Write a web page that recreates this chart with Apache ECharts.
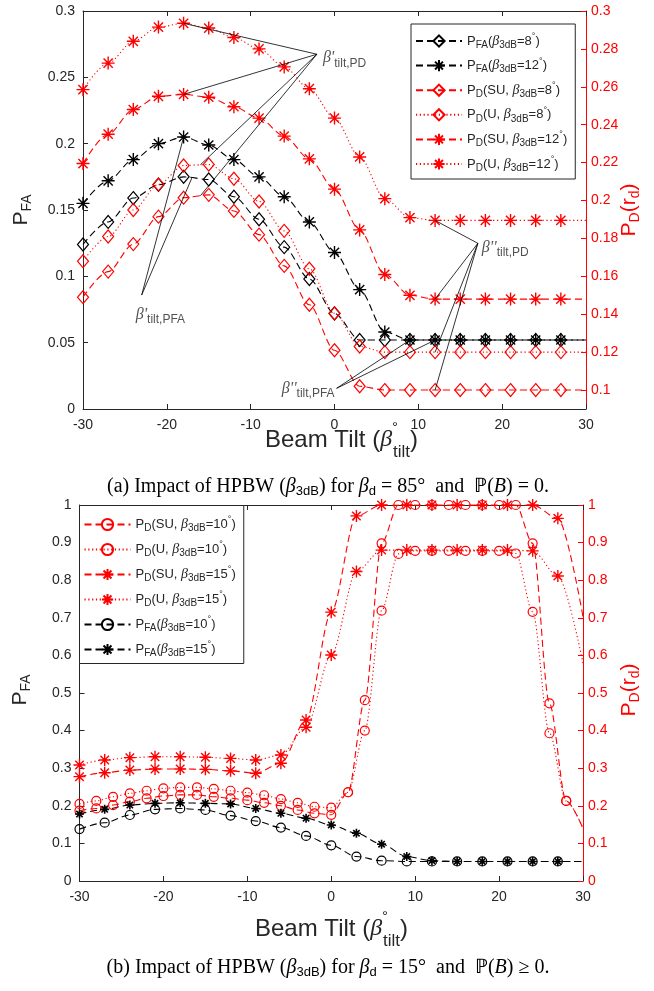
<!DOCTYPE html>
<html>
<head>
<meta charset="utf-8">
<script src="https://cdn.jsdelivr.net/npm/echarts@6/dist/echarts.min.js"></script>
<style>
  html, body { margin: 0; padding: 0; background: #fff; }
  #chart { width: 654px; height: 991px; }
</style>
</head>
<body>
<div id="chart"></div>
<script>
// beam tilt positions (deg)
const tilt3 = [-30, -27, -24, -21, -18, -15, -12, -9, -6, -3, 0, 3, 6, 9, 12, 15, 18, 21, 24, 27, 30]
const tilt2 = [-30, -28, -26, -24, -22, -20, -18, -16, -14, -12, -10, -8, -6, -4, -2, 0,
  2, 4, 6, 8, 10, 12, 14, 16, 18, 20, 22, 24, 26, 28, 30]

// (a) beta_d = 85 deg, P(B) = 0   -- FA on left axis, PD on right axis
const faA8 = [0.124, 0.141, 0.159, 0.169, 0.175, 0.173, 0.160, 0.143, 0.122, 0.098, 0.072,
  0.052, 0.052, 0.052, 0.052, 0.052, 0.052, 0.052, 0.052, 0.052, 0.052]
const faA12 = [0.155, 0.172, 0.188, 0.200, 0.205, 0.199, 0.188, 0.175, 0.160, 0.141, 0.118,
  0.090, 0.058, 0.052, 0.052, 0.052, 0.052, 0.052, 0.052, 0.052, 0.052]
const suA8 = [0.149, 0.1625, 0.177, 0.1915, 0.2015, 0.203, 0.1945, 0.182, 0.1655, 0.145, 0.121,
  0.102, 0.100, 0.100, 0.100, 0.100, 0.100, 0.100, 0.100, 0.100, 0.100]
const uA8 = [0.168, 0.181, 0.195, 0.2085, 0.2185, 0.219, 0.2115, 0.1995, 0.184, 0.164, 0.1405,
  0.123, 0.120, 0.120, 0.120, 0.120, 0.120, 0.120, 0.120, 0.120, 0.120]
const suA12 = [0.2195, 0.235, 0.248, 0.255, 0.256, 0.2545, 0.2495, 0.2435, 0.234, 0.222, 0.206,
  0.1845, 0.161, 0.150, 0.148, 0.148, 0.148, 0.148, 0.148, 0.148, 0.148]
const uA12 = [0.2585, 0.2725, 0.284, 0.2915, 0.2935, 0.291, 0.286, 0.280, 0.2705, 0.259, 0.2435,
  0.223, 0.201, 0.191, 0.1895, 0.1895, 0.1895, 0.1895, 0.1895, 0.1895, 0.1895]
const rightTicksA = [0.1, 0.12, 0.14, 0.16, 0.18, 0.2, 0.22, 0.24, 0.26, 0.28, 0.3]

// (b) beta_d = 15 deg, P(B) >= 0
const suB10 = [0.187, 0.193, 0.202, 0.211, 0.220, 0.226, 0.229, 0.229, 0.224, 0.220, 0.215, 0.208,
  0.200, 0.189, 0.180, 0.176, 0.236, 0.481, 0.898, 1.0, 1.0, 1.0, 1.0, 1.0, 1.0, 1.0, 1.0,
  0.898, 0.4725, 0.213, 0.140]
const uB10 = [0.205, 0.213, 0.224, 0.233, 0.240, 0.2465, 0.249, 0.249, 0.245, 0.240, 0.235, 0.228,
  0.218, 0.208, 0.1975, 0.195, 0.236, 0.400, 0.719, 0.870, 0.878, 0.878, 0.878, 0.878, 0.878,
  0.878, 0.871, 0.716, 0.393, 0.213, 0.140]
const suB15 = [0.2775, 0.288, 0.295, 0.298, 0.298, 0.297, 0.293, 0.2865, 0.313, 0.428, 0.715,
  0.971, 1.0, 1.0, 1.0, 1.0, 1.0, 1.0, 1.0, 0.9645, 0.703]
const uB15 = [0.3085, 0.322, 0.328, 0.3305, 0.3305, 0.329, 0.326, 0.322, 0.335, 0.409, 0.601,
  0.823, 0.880, 0.880, 0.880, 0.880, 0.880, 0.880, 0.878, 0.811, 0.579]
const faB10 = [0.138, 0.155, 0.1755, 0.1905, 0.193, 0.189, 0.174, 0.1595, 0.142, 0.120, 0.095,
  0.065, 0.054, 0.052, 0.052, 0.052, 0.052, 0.052, 0.052, 0.052, 0.052]
const faB15 = [0.178, 0.1905, 0.202, 0.2065, 0.208, 0.2065, 0.205, 0.193, 0.180, 0.167, 0.149,
  0.127, 0.098, 0.065, 0.054, 0.052, 0.052, 0.052, 0.052, 0.052, 0.052]

const RED = '#ff0000'
const INK = '#262626'
const STAR = 'path://M10,0L10,20M0,10L20,10M2.93,2.93L17.07,17.07M2.93,17.07L17.07,2.93'
const DASH = [7, 4]
const DOT = [1.2, 2.6]

// right axis of (a) runs 0.09..0.3, the left one 0..0.3
const rMinA = 0.09
const toLeftA = (v) => (v - rMinA) / (0.3 - rMinA) * 0.3
const interp = (xs, ys, x) => {
  for (let i = 0; i < xs.length - 1; i++) {
    if (x >= xs[i] && x <= xs[i + 1]) {
      const t = (x - xs[i]) / (xs[i + 1] - xs[i])
      return ys[i] + t * (ys[i + 1] - ys[i])
    }
  }
  return ys[ys.length - 1]
}

// no marker on the last point (x = 30)
const pts = (xs, ys) => xs.map((x, i) => (x === 30 ? { value: [x, ys[i]], symbol: 'none' } : [x, ys[i]]))

function curve(name, xs, ys, o) {
  return {
    name,
    type: 'line',
    xAxisIndex: o.grid * 2,
    yAxisIndex: o.y,
    data: pts(xs, ys),
    symbol: o.sym,
    symbolSize: o.size,
    itemStyle: { color: o.fill || 'rgba(0,0,0,0)', borderColor: o.color, borderWidth: o.bw || 1.2 },
    lineStyle: { color: o.color, width: 1.1, type: o.dash },
    smooth: 0.3,
    smoothMonotone: 'x',
    silent: true,
  }
}

const rich = {
  b: { fontFamily: 'Liberation Serif', fontStyle: 'italic', fontSize: 14 },
  s: { fontSize: 10, padding: [8, 0, 0, 0] },
  u: { fontSize: 9, padding: [0, 0, 9, 0] },
}

const legendText = {
  FA8: 'P{s|FA}({b|β}{s|3dB}=8{u|°})',
  FA12: 'P{s|FA}({b|β}{s|3dB}=12{u|°})',
  SU8: 'P{s|D}(SU, {b|β}{s|3dB}=8{u|°})',
  U8: 'P{s|D}(U, {b|β}{s|3dB}=8{u|°})',
  SU12: 'P{s|D}(SU, {b|β}{s|3dB}=12{u|°})',
  U12: 'P{s|D}(U, {b|β}{s|3dB}=12{u|°})',
  SU10: 'P{s|D}(SU, {b|β}{s|3dB}=10{u|°})',
  U10: 'P{s|D}(U, {b|β}{s|3dB}=10{u|°})',
  SU15: 'P{s|D}(SU, {b|β}{s|3dB}=15{u|°})',
  U15: 'P{s|D}(U, {b|β}{s|3dB}=15{u|°})',
  FA10: 'P{s|FA}({b|β}{s|3dB}=10{u|°})',
  FA15: 'P{s|FA}({b|β}{s|3dB}=15{u|°})',
}

// annotation hubs in (a), data coords of the left axis
const hubPD1 = [-2.1, 0.2674]
const hubPFA1 = [-23.0, 0.0859]
const hubPD2 = [17.1, 0.1249]
const hubPFA2 = [0.25, 0.0156]
const annoSegs = [
  [hubPD1, [-18, toLeftA(uA12[4])]],
  [hubPD1, [-18, toLeftA(suA12[4])]],
  [hubPD1, [-16, toLeftA(interp(tilt3, uA8, -16))]],
  [hubPD1, [-16, toLeftA(interp(tilt3, suA8, -16))]],
  [hubPFA1, [-18, faA12[4]]],
  [hubPFA1, [-17, interp(tilt3, faA8, -17)]],
  [hubPD2, [12, toLeftA(uA12[14])]],
  [hubPD2, [12, toLeftA(suA12[14])]],
  [hubPD2, [12, toLeftA(uA8[14])]],
  [hubPD2, [12, toLeftA(suA8[14])]],
  [hubPFA2, [9, faA8[13]]],
  [hubPFA2, [12, faA8[14]]],
]

const annoRich = {
  b: { fontFamily: 'Liberation Serif', fontStyle: 'italic', fontSize: 16, color: INK },
  s: { fontSize: 12, padding: [10, 0, 0, 0], color: INK },
}

function xAxes(grid) {
  return [
    {
      type: 'value', gridIndex: grid, min: -30, max: 30, interval: 10,
      axisLine: { onZero: false, lineStyle: { color: INK, width: 1 } },
      axisTick: { inside: true, length: 5, lineStyle: { color: INK } },
      axisLabel: { color: INK, fontSize: 14, fontFamily: 'Liberation Sans', margin: 9 },
      splitLine: { show: false },
    },
    {
      type: 'value', gridIndex: grid, position: 'top', min: -30, max: 30, interval: 10,
      axisLine: { onZero: false, lineStyle: { color: INK, width: 1 } },
      axisTick: { inside: true, length: 5, lineStyle: { color: INK } },
      axisLabel: { show: false },
      splitLine: { show: false },
    },
  ]
}

const leftAxis = (grid, max, interval) => ({
  type: 'value', gridIndex: grid, min: 0, max, interval, position: 'left',
  axisLine: { show: true, onZero: false, lineStyle: { color: INK, width: 1 } },
  axisTick: { show: true, inside: true, length: 5, lineStyle: { color: INK } },
  axisLabel: { color: INK, fontSize: 14, fontFamily: 'Liberation Sans', margin: 8 },
  splitLine: { show: false },
})

const series = [
  // (a)
  curve('FA8', tilt3, faA8, { grid: 0, y: 0, sym: 'diamond', size: [11, 13], color: '#000', dash: DASH }),
  curve('FA12', tilt3, faA12, { grid: 0, y: 0, sym: STAR, size: 13, color: '#000', dash: DASH, bw: 1.4 }),
  curve('SU8', tilt3, suA8, { grid: 0, y: 1, sym: 'diamond', size: [11, 13], color: RED, dash: DASH }),
  curve('U8', tilt3, uA8, { grid: 0, y: 1, sym: 'diamond', size: [11, 13], color: RED, dash: DOT }),
  curve('SU12', tilt3, suA12, { grid: 0, y: 1, sym: STAR, size: 13, color: RED, dash: DASH, bw: 1.4 }),
  curve('U12', tilt3, uA12, { grid: 0, y: 1, sym: STAR, size: 13, color: RED, dash: DOT, bw: 1.4 }),
  // (b)
  curve('SU10', tilt2, suB10, { grid: 1, y: 3, sym: 'circle', size: 9, color: RED, dash: DASH }),
  curve('U10', tilt2, uB10, { grid: 1, y: 3, sym: 'circle', size: 9, color: RED, dash: DOT }),
  curve('SU15', tilt3, suB15, { grid: 1, y: 3, sym: STAR, size: 12, color: RED, dash: DASH, bw: 1.4 }),
  curve('U15', tilt3, uB15, { grid: 1, y: 3, sym: STAR, size: 12, color: RED, dash: DOT, bw: 1.4 }),
  curve('FA10', tilt3, faB10, { grid: 1, y: 2, sym: 'circle', size: 9, color: '#000', dash: DASH }),
  curve('FA15', tilt3, faB15, { grid: 1, y: 2, sym: STAR, size: 9, color: '#000', dash: DASH, bw: 1.6 }),
  // annotation leaders in (a)
  {
    type: 'lines', coordinateSystem: 'cartesian2d', xAxisIndex: 0, yAxisIndex: 0,
    silent: true, z: 5,
    lineStyle: { color: '#000', width: 0.8, opacity: 1, curveness: 0 },
    data: annoSegs.map((c) => ({ coords: c })),
  },
  {
    type: 'scatter', xAxisIndex: 0, yAxisIndex: 0, symbolSize: 0, silent: true, z: 6,
    label: { show: true, rich: annoRich, fontFamily: 'Liberation Sans', color: INK },
    data: [
      { value: hubPD1, label: { position: 'right', offset: [1, 4], formatter: "{b|β'}{s|tilt,PD}" } },
      { value: hubPFA1, label: { position: 'right', offset: [-11, 20], formatter: "{b|β'}{s|tilt,PFA}" } },
      { value: hubPD2, label: { position: 'right', offset: [-1, 4], formatter: "{b|β''}{s|tilt,PD}" } },
      { value: hubPFA2, label: { position: 'left', offset: [3, 0], formatter: "{b|β''}{s|tilt,PFA}" } },
    ],
  },
]

const legendBase = {
  orient: 'vertical',
  backgroundColor: '#fff',
  borderColor: INK,
  borderWidth: 1,
  borderRadius: 0,
  itemWidth: 46,
  itemHeight: 14,
  selectedMode: false,
  textStyle: { fontSize: 13, fontFamily: 'Liberation Sans', color: INK, rich },
  formatter: (n) => legendText[n],
}

const titleRich = {
  b: { fontFamily: 'Liberation Serif', fontStyle: 'italic', fontSize: 24 },
  dg: { fontSize: 15, width: 1, padding: [0, 0, 24, 0] },
  st: { fontSize: 17, padding: [24, 0, 0, 0] },
  s: { fontSize: 14, padding: [12, 0, 0, 0] },
}
const capRich = {
  b: { fontFamily: 'Liberation Serif', fontStyle: 'italic', fontSize: 20 },
  s: { fontFamily: 'Liberation Sans', fontSize: 13, padding: [9, 0, 0, 0] },
}

function txt(text, x, y, o) {
  return {
    type: 'text', x, y, rotation: o.rot || 0, silent: true,
    style: {
      text, rich: o.rich, fill: o.color || INK,
      fontSize: o.size, fontFamily: o.font || 'Liberation Sans',
      align: o.align || 'center', verticalAlign: 'middle',
    },
  }
}

const chart = echarts.init(document.getElementById('chart'), null, { renderer: 'canvas' })
chart.setOption({
  animation: false,
  backgroundColor: '#fff',
  grid: [
    { left: 83, right: 68, top: 11, height: 398, containLabel: false },
    { left: 79.5, right: 71, top: 505, height: 376, containLabel: false },
  ],
  xAxis: [...xAxes(0), ...xAxes(1)],
  yAxis: [
    leftAxis(0, 0.3, 0.05),
    {
      type: 'value', gridIndex: 0, min: rMinA, max: 0.3, position: 'right',
      axisLine: { show: true, onZero: false, lineStyle: { color: RED, width: 1 } },
      axisTick: { show: true, inside: true, length: 5, customValues: rightTicksA, lineStyle: { color: RED } },
      axisLabel: {
        color: RED, fontSize: 14, fontFamily: 'Liberation Sans', margin: 5,
        customValues: rightTicksA, formatter: (v) => String(+v.toFixed(2)),
      },
      splitLine: { show: false },
    },
    leftAxis(1, 1, 0.1),
    {
      type: 'value', gridIndex: 1, min: 0, max: 1, interval: 0.1, position: 'right',
      axisLine: { show: true, onZero: false, lineStyle: { color: RED, width: 1 } },
      axisTick: { show: true, inside: true, length: 5, lineStyle: { color: RED } },
      axisLabel: { color: RED, fontSize: 14, fontFamily: 'Liberation Sans', margin: 5 },
      splitLine: { show: false },
    },
  ],
  legend: [
    { ...legendBase, left: 411, top: 24, padding: [8, 8, 6, 4], itemGap: 6.6,
      data: ['FA8', 'FA12', 'SU8', 'U8', 'SU12', 'U12'] },
    { ...legendBase, left: 79.5, top: 505.5, padding: [10, 8, 5, 4], itemGap: 7,
      data: ['SU10', 'U10', 'SU15', 'U15', 'FA10', 'FA15'] },
  ],
  series,
  graphic: [
    txt('P{s|FA}', 21, 210, { size: 21, rich: titleRich, rot: Math.PI / 2 }),
    txt('P{s|D}(r{s|d})', 629, 210, { size: 21, rich: titleRich, rot: Math.PI / 2, color: RED }),
    txt('P{s|FA}', 20, 690, { size: 21, rich: titleRich, rot: Math.PI / 2 }),
    txt('P{s|D}(r{s|d})', 629, 690, { size: 21, rich: titleRich, rot: Math.PI / 2, color: RED }),
    txt('Beam Tilt ({b|β}{dg|°}{st|tilt})', 265, 440, { size: 24, rich: titleRich, align: 'left' }),
    txt('Beam Tilt ({b|β}{dg|°}{st|tilt})', 255, 929, { size: 24, rich: titleRich, align: 'left' }),
    txt('(a) Impact of HPBW ({b|β}{s|3dB}) for {b|β}{s|d} = 85°  and  ℙ({b|B}) = 0.', 328, 487,
      { size: 20, rich: capRich, font: 'Liberation Serif', color: '#000' }),
    txt('(b) Impact of HPBW ({b|β}{s|3dB}) for {b|β}{s|d} = 15°  and  ℙ({b|B}) ≥ 0.', 328, 968,
      { size: 20, rich: capRich, font: 'Liberation Serif', color: '#000' }),
  ],
})
</script>
</body>
</html>
